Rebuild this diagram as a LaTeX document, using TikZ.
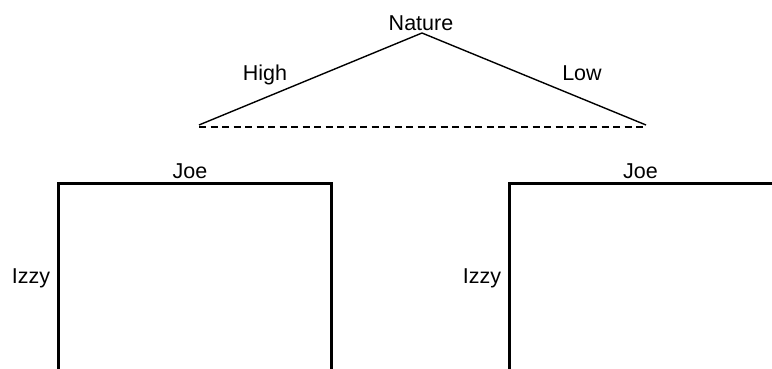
\documentclass[tikz,border=0pt]{standalone}
\usepackage{fontspec}
\setmainfont{Liberation Sans}
\begin{document}
\begin{tikzpicture}[x=1pt,y=-1pt,
  lbl/.style={font=\fontsize{21.5}{21.5}\selectfont, inner sep=0pt, anchor=base},
  branch/.style={line width=1.4pt},
  infoset/.style={line width=1.4pt, dash pattern=on 7pt off 4.5pt},
  frame/.style={line width=2.6pt, line cap=butt}]
  \useasboundingbox (0,0) rectangle (772,369);

  % Nature's move
  \coordinate (root) at (422,33);
  \coordinate (hi) at (199,125);
  \coordinate (lo) at (646,125);
  \coordinate (setL) at (199,127);
  \coordinate (setR) at (646,127);
  \node[lbl] (nature) at (421,30.5) {Nature};
  \draw[branch] (root) -- (hi);
  \draw[branch] (root) -- (lo);
  \node[lbl] (high) at (265,81) {High};
  \node[lbl] (low) at (582,81) {Low};
  \draw[infoset] (setL) -- (setR);

  % Left game matrix
  \coordinate (Lbl) at (58.5,372);
  \coordinate (Ltl) at (58.5,183.5);
  \coordinate (Ltr) at (331.5,183.5);
  \coordinate (Lbr) at (331.5,372);
  \draw[frame] (Lbl) -- (Ltl) -- (Ltr) -- (Lbr);
  \node[lbl] (joeL) at (190,178) {Joe};
  \node[lbl] (izzyL) at (31,283) {Izzy};

  % Right game matrix
  \coordinate (Rbl) at (509.5,372);
  \coordinate (Rtl) at (509.5,183.5);
  \coordinate (Rtr) at (775,183.5);
  \draw[frame] (Rbl) -- (Rtl) -- (Rtr);
  \node[lbl] (joeR) at (640.5,178) {Joe};
  \node[lbl] (izzyR) at (482,283) {Izzy};
\end{tikzpicture}
\end{document}
